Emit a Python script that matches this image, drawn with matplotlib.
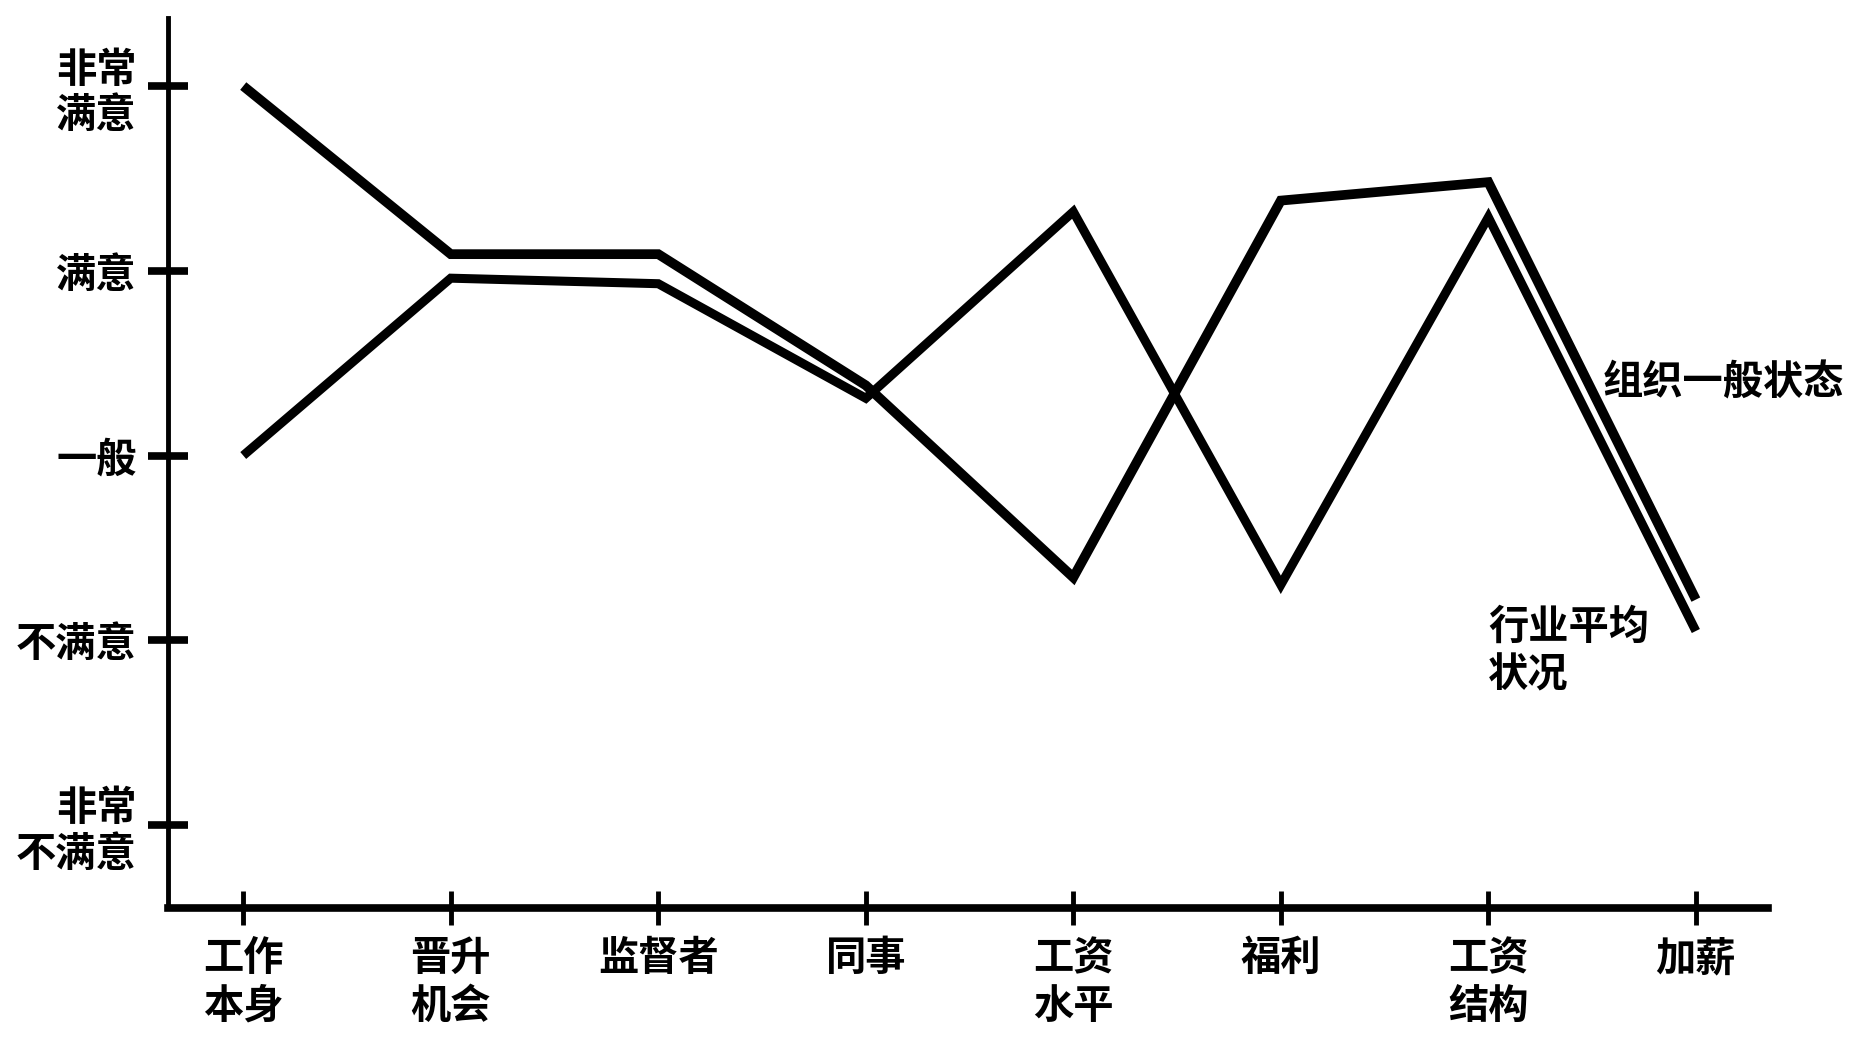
import matplotlib
matplotlib.use("Agg")
import matplotlib.pyplot as plt

plt.rcParams["font.family"] = ["Noto Sans CJK SC", "DejaVu Sans"]

# job-satisfaction profile, 5 = 非常满意 ... 1 = 非常不满意
categories = ["工作\n本身", "晋升\n机会", "监督者", "同事", "工资\n水平", "福利", "工资\n结构", "加薪"]
level_values = [5, 4, 3, 2, 1]
level_labels = ["非常\n满意", "满意", "一般", "不满意", "非常\n不满意"]

org_status = [5.0, 4.09, 4.09, 3.38, 2.34, 4.38, 4.48, 2.22]
industry_avg = [3.0, 3.96, 3.93, 3.31, 4.32, 2.30, 4.29, 2.05]

fig = plt.figure(figsize=(18.72, 10.41), dpi=100)
ax = fig.add_axes([0.0897, 0.128, 0.855, 0.855])

x = list(range(len(categories)))
ax.plot(x, org_status, color="black", lw=7, solid_joinstyle="miter", solid_capstyle="butt")
ax.plot(x, industry_avg, color="black", lw=6.5, solid_joinstyle="miter", solid_capstyle="butt")

ax.set_xlim(-0.363, 7.35)
ax.set_ylim(0.552, 5.37)

ax.set_xticks(x)
ax.set_xticklabels(categories, fontsize=29, fontweight="bold", linespacing=1.2)
ax.set_yticks(level_values)
ax.set_yticklabels(level_labels, fontsize=29, fontweight="bold", linespacing=1.15)

ax.tick_params(axis="y", direction="inout", length=29, width=5.5, pad=8, color="black")
ax.tick_params(axis="x", direction="inout", length=24, width=3.5, pad=10, color="black")

for side in ["top", "right"]:
    ax.spines[side].set_visible(False)
ax.spines["left"].set_linewidth(3.5)
ax.spines["bottom"].set_linewidth(5.5)

ax.text(6.55, 3.39, "组织一般状态", fontsize=29, fontweight="bold", ha="left", va="center")
ax.text(6.0, 2.18, "行业平均\n状况", fontsize=29, fontweight="bold", ha="left", va="top",
        linespacing=1.2)

fig.savefig("out.png", dpi=100)
